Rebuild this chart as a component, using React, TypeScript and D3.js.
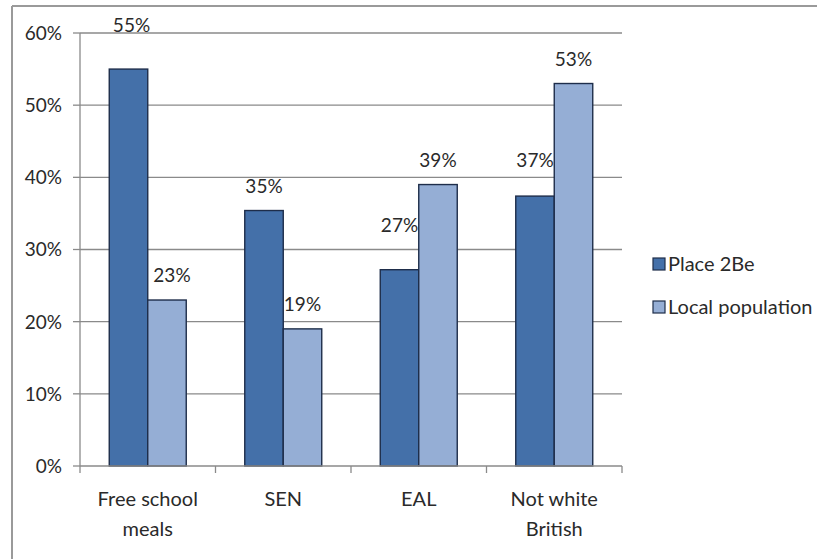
import React from "react";
import * as d3 from "d3";

const categories: string[][] = [["Free school", "meals"], ["SEN"], ["EAL"], ["Not white", "British"]];
const seriesNames = ["Place 2Be", "Local population"];
const place2be = [55, 35.4, 27.2, 37.4];
const localPop = [23, 19, 39, 53];
const yTicks = [0, 10, 20, 30, 40, 50, 60];

// extra upward nudge (px) of individual data labels, as placed in the original
const labelNudge = [
  [19, 0, 20, 11],
  [0, 0, 0, 0],
];
const labelShiftX = [
  [3, 0, 0, 0],
  [5, 0, 0, 0],
];

const colors = ["#4470A9", "#95AED5"];
const FONT = "Lato, 'Liberation Sans', sans-serif";

export default function App() {
  const W = 817, H = 559;
  const left = 80, right = 622, top = 33, bottom = 466;
  const keys = categories.map((c) => c.join(" "));
  const x0 = d3.scaleBand<string>().domain(keys).range([left, right]).paddingInner(0).paddingOuter(0);
  const x1 = d3.scaleBand<string>().domain(seriesNames).range([0, x0.bandwidth()]).paddingInner(0).paddingOuter(0.76);
  const y = d3.scaleLinear().domain([0, 60]).range([bottom, top]);
  const series = [place2be, localPop];
  const grid = "#8a8a8a";
  const txt = "#2a2a2a";

  return (
    <svg width={W} height={H} style={{ position: "absolute", left: 0, top: 0, background: "#fff" }} fontFamily={FONT}>
      <rect x={0} y={0} width={W} height={H} fill="#fff" />
      {/* chart border */}
      <line x1={12} x2={W} y1={6} y2={6} stroke="#9a9a9a" strokeWidth={2} />
      <line x1={12} x2={12} y1={6} y2={H} stroke="#9a9a9a" strokeWidth={2} />

      {/* gridlines and y ticks */}
      {yTicks.map((t) => (
        <g key={t}>
          {t > 0 && <line x1={left} x2={right} y1={y(t)} y2={y(t)} stroke={grid} strokeWidth={1.3} />}
          <line x1={left - 7} x2={left} y1={y(t)} y2={y(t)} stroke={grid} strokeWidth={1.3} />
          <text x={62} y={y(t)} dy="0.36em" textAnchor="end" fontSize={19} fill={txt}>
            {t}%
          </text>
        </g>
      ))}
      <line x1={left} x2={left} y1={top} y2={bottom} stroke={grid} strokeWidth={1.3} />

      {/* bars */}
      {series.map((vals, si) =>
        vals.map((v, ci) => {
          const bx = (x0(keys[ci]) as number) + (x1(seriesNames[si]) as number);
          return (
            <rect
              key={`${si}-${ci}`}
              x={bx}
              y={y(v)}
              width={x1.bandwidth()}
              height={y(0) - y(v)}
              fill={colors[si]}
              stroke="#1e2d4a"
              strokeWidth={1.4}
            />
          );
        })
      )}

      {/* x axis */}
      <line x1={left} x2={right} y1={bottom} y2={bottom} stroke={grid} strokeWidth={1.3} />
      {d3.range(keys.length + 1).map((i) => {
        const xx = left + i * x0.step();
        return <line key={i} x1={xx} x2={xx} y1={bottom} y2={bottom + 7} stroke={grid} strokeWidth={1.3} />;
      })}

      {/* data labels */}
      {series.map((vals, si) =>
        vals.map((v, ci) => {
          const cx = (x0(keys[ci]) as number) + (x1(seriesNames[si]) as number) + x1.bandwidth() / 2 + labelShiftX[si][ci];
          return (
            <text key={`l${si}-${ci}`} x={cx} y={y(v) - 18 - labelNudge[si][ci]} textAnchor="middle" fontSize={19} fill={txt}>
              {Math.round(v)}%
            </text>
          );
        })
      )}

      {/* category labels */}
      {categories.map((lines, ci) => {
        const cx = (x0(keys[ci]) as number) + x0.bandwidth() / 2;
        return (
          <text key={ci} x={cx} y={506} textAnchor="middle" fontSize={20} fill={txt}>
            {lines.map((ln, li) => (
              <tspan key={li} x={cx} dy={li === 0 ? 0 : 30}>
                {ln}
              </tspan>
            ))}
          </text>
        );
      })}

      {/* legend */}
      {seriesNames.map((s, i) => (
        <g key={s} transform={`translate(653, ${258 + i * 43})`}>
          <rect x={0} y={0} width={12} height={12} fill={colors[i]} stroke="#1e2d4a" strokeWidth={1.2} />
          <text x={15} y={6} dy="0.36em" fontSize={20} fill={txt}>
            {s}
          </text>
        </g>
      ))}
    </svg>
  );
}
